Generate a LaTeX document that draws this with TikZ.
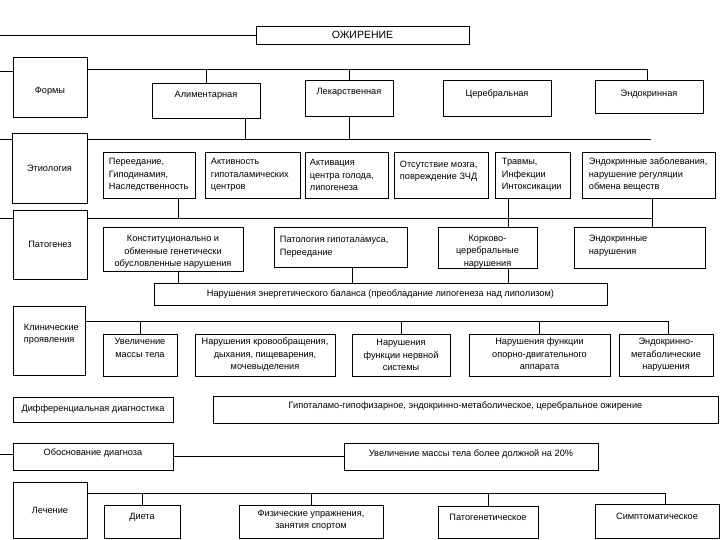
\documentclass[tikz,border=0pt]{standalone}
\usepackage{fontspec}
\setmainfont{Liberation Sans}
\tikzset{
  bxs/.style={draw, line width=0.6pt, inner sep=0pt},
  tx/.style={inner sep=0pt, font=\fontsize{9.2}{12.5}\selectfont, align=center},
  ln/.style={line width=0.6pt},
}
% centred text
\newcommand{\bx}[7][]{\node[bxs, minimum width={#5pt-#3pt}, minimum height={#6pt-#4pt}] (#2) at ({(#3+#5)/2},{(#4+#6)/2}) {};
  \node[tx,#1] (#2t) at (#2.center) {#7};}
% left-aligned text, #7 = left margin
\newcommand{\bxl}[8][]{\node[bxs, minimum width={#5pt-#3pt}, minimum height={#6pt-#4pt}] (#2) at ({(#3+#5)/2},{(#4+#6)/2}) {};
  \node[tx, align=left, anchor=west, xshift=#7pt, #1] (#2t) at (#2.west) {#8};}
\begin{document}
\begin{tikzpicture}[x=1pt,y=-1pt]
\useasboundingbox (0,0) rectangle (720,540);
\fill[white] (0,0) rectangle (720,540);

% title
\bx[font=\fontsize{10.5}{12}\selectfont]{ozh}{256}{26}{469}{44}{ОЖИРЕНИЕ}
\coordinate (o0) at (0,35);
\draw[ln] (o0) -- (ozh.west);

% left column
\bx[yshift=-4pt]{forms}{13}{57}{87}{117}{Формы}
\bx{etio}{12}{133}{87}{203}{Этиология}
\bx{path}{13}{210}{87}{279}{Патогенез}
\bxl[yshift=6pt]{clin}{13}{306}{85}{375}{11}{Клинические\\проявления}
\bx{diff}{13}{397}{173}{422}{Дифференциальная диагностика}
\bx[yshift=3pt]{obos}{13}{443}{173}{470}{Обоснование диагноза}
\bx{lech}{13}{482}{87}{538}{Лечение}
\coordinate (s1) at (0,71);
\coordinate (s2) at (0,139);
\coordinate (s3) at (0,218);
\coordinate (s4) at (0,454);
\draw[ln] (s1) -- (s1 -| forms.west);
\draw[ln] (s2) -- (s2 -| etio.west);
\draw[ln] (s3) -- (s3 -| path.west);
\draw[ln] (s4) -- (s4 -| obos.west);

% forms
\bx[yshift=5pt]{ali}{152}{83}{260}{118}{Алиментарная}
\bx[yshift=6pt]{lek}{305}{80}{393}{116}{Лекарственная}
\bx[yshift=4pt]{cer}{443}{80}{551}{116}{Церебральная}
\bx[yshift=2pt]{endo}{595}{80}{703}{113}{Эндокринная}
\coordinate (b1) at (647,69);
\draw[ln] (forms.east |- b1) -- (b1) -- (endo.north -| b1);
\draw[ln] (ali.north |- b1) -- (ali.north);
\draw[ln] (lek.north |- b1) -- (lek.north);

% etiology
\coordinate (b2) at (651,139);
\coordinate (d1) at (245,139);
\draw[ln] (etio.east |- b2) -- (b2);
\draw[ln] (ali.south -| d1) -- (d1);
\draw[ln] (lek.south) -- (lek.south |- b2);
\bxl{eti1}{103}{152}{195}{198}{6}{Переедание,\\Гиподинамия,\\Наследственность}
\bxl{eti2}{205}{152}{300}{198}{6}{Активность\\гипоталамических\\центров}
\bxl{eti3}{305}{152}{388}{198}{5}{Активация\\центра голода,\\липогенеза}
\bxl[yshift=4pt]{eti4}{394}{152}{488}{198}{6}{Отсутствие мозга,\\повреждение ЗЧД}
\bxl{eti5}{495}{152}{570}{198}{7}{Травмы,\\Инфекции\\Интоксикации}
\bxl{eti6}{582}{152}{715}{198}{7}{Эндокринные заболевания,\\нарушение регуляции\\обмена веществ}

% pathogenesis
\coordinate (b3) at (652,218);
\coordinate (d2) at (178,218);
\coordinate (d3) at (508,218);
\draw[ln] (path.east |- b3) -- (b3);
\draw[ln] (eti1.south -| d2) -- (d2);
\bx[yshift=-3pt]{pat1}{103}{227}{243}{271}{Конституционально и\\обменные генетически\\обусловленные нарушения}
\bxl{pat2}{274}{227}{407}{267}{6}{Патология гипоталамуса,\\Переедание}
\bx[yshift=-4pt]{pat3}{438}{227}{537}{268}{Корково-\\церебральные\\нарушения}
\bxl[yshift=2pt]{pat4}{574}{227}{705}{268}{15}{Эндокринные\\нарушения}
\draw[ln] (eti5.south -| d3) -- (pat3.north -| d3);
\draw[ln] (b3 |- eti6.south) -- (b3 |- pat4.north);

% energy balance
\bx{energy}{154}{283}{607}{305}{Нарушения энергетического баланса (преобладание липогенеза над липолизом)}
\coordinate (x352) at (352,0);
\draw[ln] (pat1.south -| d2) -- (energy.north -| d2);
\draw[ln] (pat2.south -| x352) -- (energy.north -| x352);
\draw[ln] (pat3.south -| d3) -- (energy.north -| d3);

% clinical
\bx[yshift=7pt]{cl1}{103}{334}{177}{376}{Увеличение\\массы тела}
\bx{cl2}{195}{334}{335}{376}{Нарушения кровообращения,\\дыхания, пищеварения,\\мочевыделения}
\bx{cl3}{352}{334}{450}{376}{Нарушения\\функции нервной\\системы}
\bx{cl4}{469}{334}{610}{376}{Нарушения функции\\опорно-двигательного\\аппарата}
\bx{cl5}{619}{334}{713}{376}{Эндокринно-\\метаболические\\нарушения}
\coordinate (b4) at (668,321);
\draw[ln] (clin.east |- b4) -- (b4) -- (b4 |- cl5.north);
\draw[ln] (cl1.north |- b4) -- (cl1.north);
\draw[ln] (cl3.north |- b4) -- (cl3.north);
\draw[ln] (cl4.north |- b4) -- (cl4.north);

% differential diagnosis
\bx[yshift=3pt]{big}{213}{396}{718}{423}{Гипоталамо-гипофизарное, эндокринно-метаболическое, церебральное ожирение}

% justification
\bx[yshift=3pt]{uv}{344}{443}{598}{470}{Увеличение массы тела более должной на 20\%}
\draw[ln] (obos.east) -- (obos.east -| uv.west);

% treatment
\bx[yshift=4pt]{t1}{104}{505}{180}{538}{Диета}
\bx[yshift=1pt]{t2}{239}{505}{383}{538}{Физические упражнения,\\занятия спортом}
\bx[yshift=5pt]{t3}{438}{506}{538}{538}{Патогенетическое}
\bx[yshift=5pt]{t4}{595}{504}{719}{538}{Симптоматическое}
\coordinate (b5) at (665,493);
\draw[ln] (lech.east |- b5) -- (b5) -- (b5 |- t4.north);
\draw[ln] (t1.north |- b5) -- (t1.north);
\draw[ln] (t2.north |- b5) -- (t2.north);
\draw[ln] (t3.north |- b5) -- (t3.north);
\end{tikzpicture}
\end{document}
